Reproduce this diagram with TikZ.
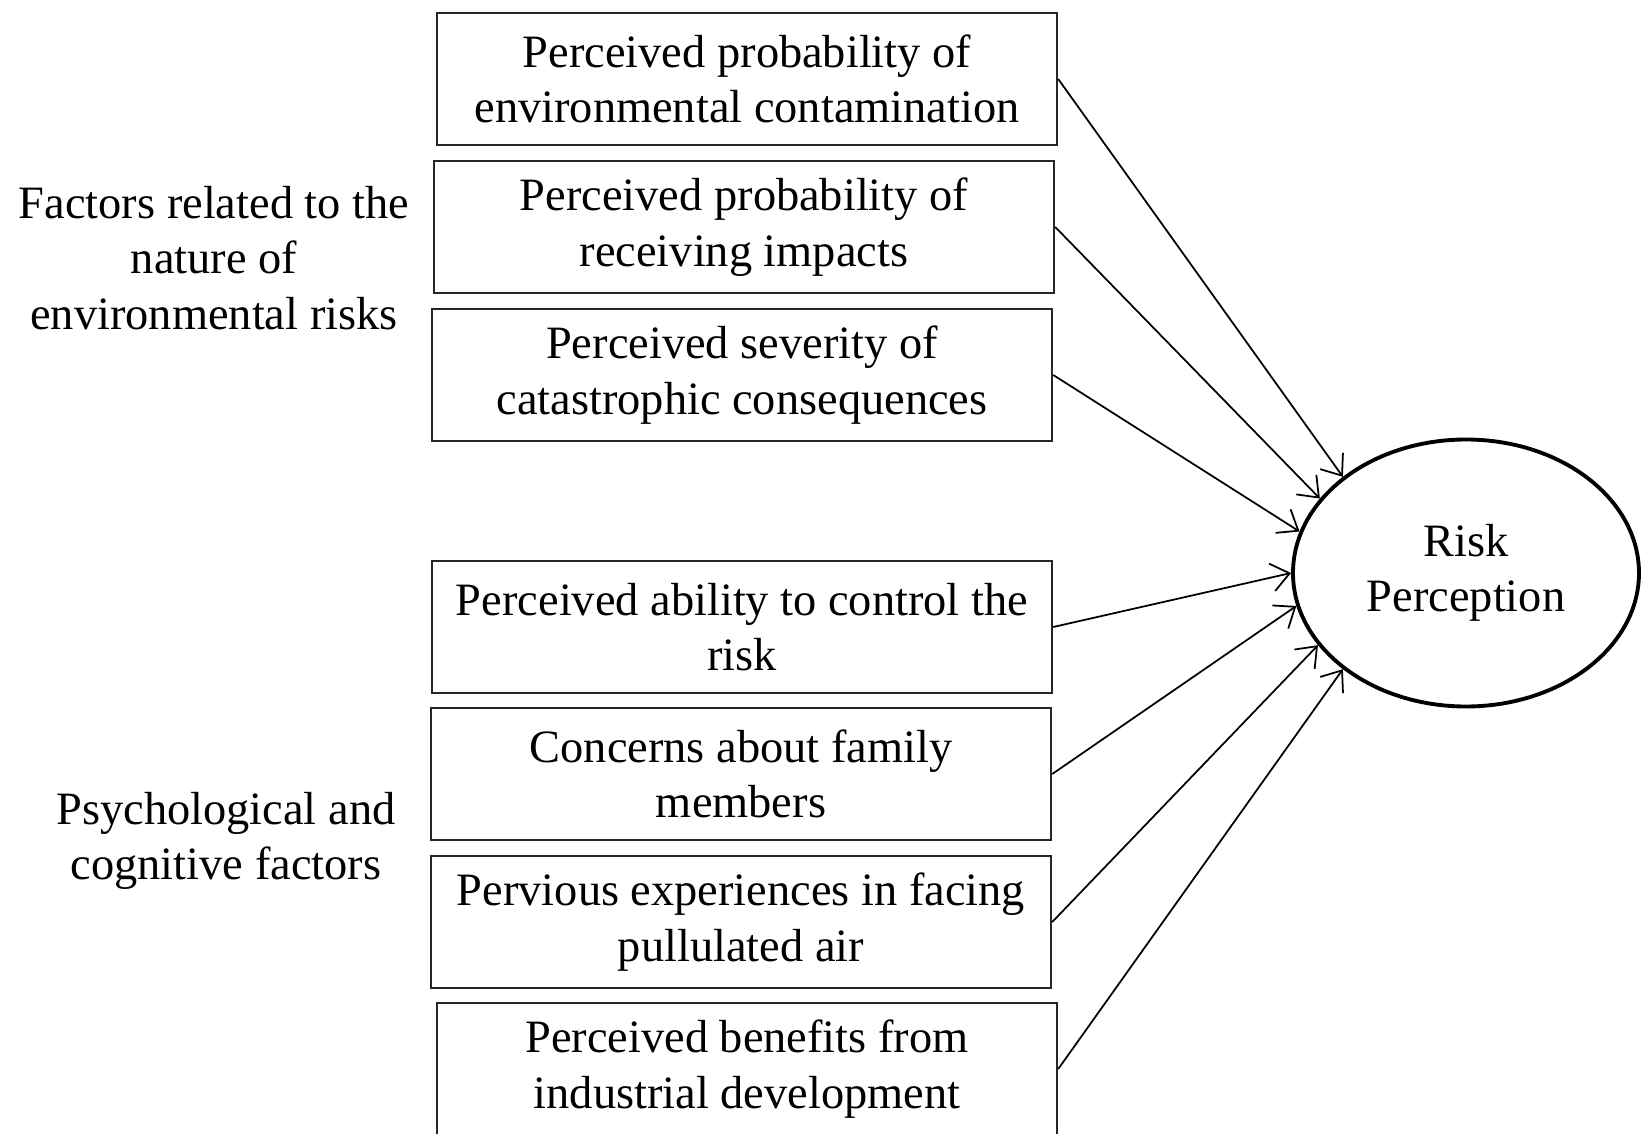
\documentclass[tikz,border=0pt]{standalone}
\usepackage{fontspec}
\setmainfont{Liberation Serif}
\usepackage{tikz}
\usetikzlibrary{arrows.meta,shapes.geometric}

\begin{document}
\begin{tikzpicture}[
        factor/.style={draw=black!85, line width=0.7pt, minimum width=6.2cm, minimum height=1.32cm, align=center, inner sep=2pt},
        group/.style={align=center},
        arr/.style={-{Straight Barb[length=1.8mm,width=2.8mm]}, line width=0.5pt},
        font=\fontsize{13.2}{15.8}\selectfont]
                \useasboundingbox (0,0) rectangle (16.41,11.33);
                % Factors related to the nature of the risk
                \node[factor] (contam) at (7.47,10.54) {Perceived probability of\\environmental contamination};
                \node[factor] (impact) at (7.44,9.06) {Perceived probability of\\receiving impacts};
                \node[factor] (severe) at (7.42,7.58) {Perceived severity of\\catastrophic consequences};
                % Psychological and cognitive factors
                \node[factor] (control) at (7.42,5.06) {Perceived ability to control the\\risk};
                \node[factor] (family) at (7.41,3.59) {Concerns about family\\members};
                \node[factor] (exper) at (7.41,2.11) {Pervious experiences in facing\\pullulated air};
                \node[factor] (benefit) at (7.47,0.64) {Perceived benefits from\\industrial development};
                % Outcome
                \node[ellipse, draw, line width=1.1pt, minimum width=3.46cm, minimum height=2.67cm, align=center] (risk) at (14.66,5.6) {Risk\\Perception};
                % Group labels
                \node[group] (nature) at (2.14,8.75) {Factors related to the\\nature of\\environmental risks};
                \node[group] (psych) at (2.26,2.92) {Psychological and\\cognitive factors};
                % Arrows into the ellipse
                \draw[arr] (contam.east) -- (risk.142);
                \draw[arr] (impact.east) -- (risk.153);
                \draw[arr] (severe.east) -- (risk.166);
                \draw[arr] (control.east) -- (risk.180);
                \draw[arr] (family.east) -- (risk.191);
                \draw[arr] (exper.east) -- (risk.206);
                \draw[arr] (benefit.east) -- (risk.218);
            \end{tikzpicture}
\end{document}
